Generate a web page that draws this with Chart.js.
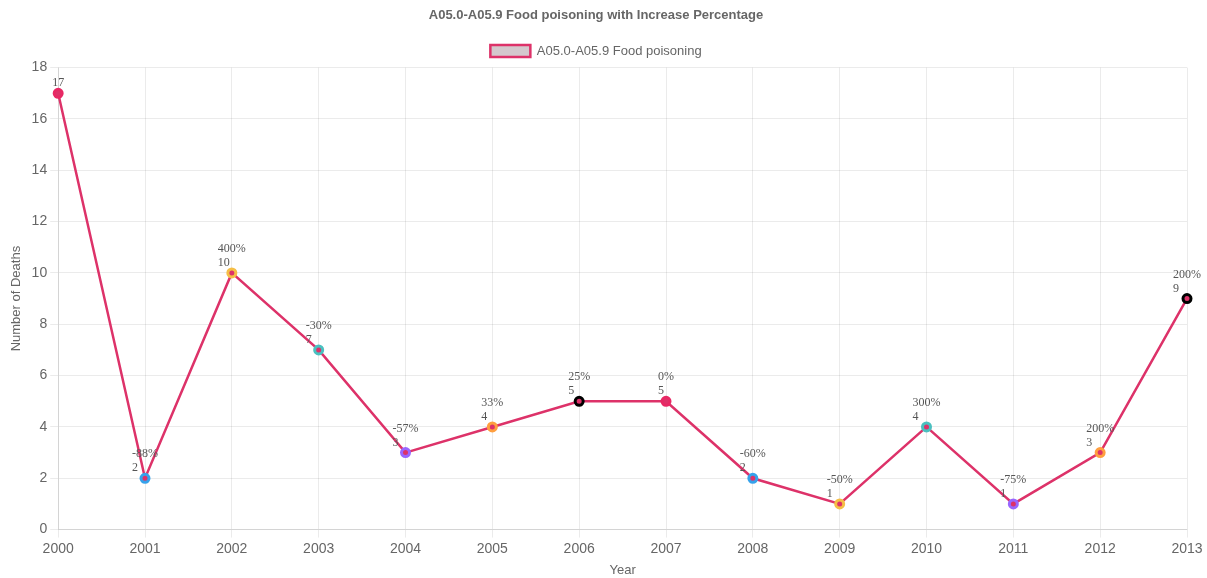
<!DOCTYPE html>
<html>
<head>
<meta charset="utf-8">
<title>Food poisoning</title>
<script src="https://cdn.jsdelivr.net/npm/chart.js@4.4.0/dist/chart.umd.min.js"></script>
<style>
  html, body { margin: 0; padding: 0; background: #fff; }
  #wrap { width: 1207px; height: 578px; }
</style>
</head>
<body>
<div id="wrap"><canvas id="myChart"></canvas></div>
<script>
let years = ['2000', '2001', '2002', '2003', '2004', '2005', '2006', '2007', '2008', '2009', '2010', '2011', '2012', '2013'];
let deaths = [17, 2, 10, 7, 3, 4, 5, 5, 2, 1, 4, 1, 3, 9];
let pctLabels = ['', '-88%', '400%', '-30%', '-57%', '33%', '25%', '0%', '-60%', '-50%', '300%', '-75%', '200%', '200%'];
let yTicks = [0, 2, 4, 6, 8, 10, 12, 14, 16, 18];

let lineColor = 'rgb(221, 50, 105)';
let pointColors = [
  'rgb(232, 40, 100)',
  'rgb(54, 162, 235)',
  'rgb(245, 190, 70)',
  'rgb(75, 192, 192)',
  'rgb(153, 102, 255)',
  'rgb(255, 159, 64)',
  'rgb(0, 0, 0)'
];

// draws "pct" and value above each point
let labelPlugin = {
  id: 'labelPlugin',
  afterDatasetsDraw: (chart) => {
    let ctx = chart.ctx;
    let meta = chart.getDatasetMeta(0);
    ctx.save();
    ctx.font = '12px "Liberation Serif", serif';
    ctx.fillStyle = '#555';
    ctx.textAlign = 'left';
    ctx.textBaseline = 'alphabetic';
    meta.data.forEach((pt, i) => {
      let top = pctLabels[i] || String(deaths[i]);
      let x = pt.x - ctx.measureText(top).width / 2;
      if (pctLabels[i]) {
        ctx.fillText(pctLabels[i], x, pt.y - 21);
      }
      ctx.fillText(String(deaths[i]), x, pt.y - 7);
    });
    ctx.restore();
  }
};

onWindowLoad = () => {
  Chart.defaults.font.family = 'Arial, "Liberation Sans", sans-serif';
  Chart.defaults.color = '#666';
  var ctx = document.getElementById('myChart').getContext('2d');
  var myChart = new Chart(ctx, {
    type: 'line',
    data: {
      labels: years,
      datasets: [{
        label: 'A05.0-A05.9 Food poisoning',
        data: deaths,
        borderColor: lineColor,
        backgroundColor: 'rgb(212, 200, 205)',
        borderWidth: 2.5,
        tension: 0,
        fill: false,
        pointRadius: 4,
        pointHoverRadius: 5,
        pointBorderWidth: 3,
        pointBackgroundColor: lineColor,
        pointBorderColor: deaths.map((v, i) => pointColors[i % pointColors.length])
      }]
    },
    options: {
      maintainAspectRatio: false,
      responsive: true,
      animation: false,
      layout: { padding: { right: 20, left: 5, bottom: 0 } },
      plugins: {
        title: {
          display: true,
          text: 'A05.0-A05.9 Food poisoning with Increase Percentage',
          font: { size: 13, weight: 'bold' },
          padding: { top: 8, bottom: 11 }
        },
        legend: {
          labels: {
            boxWidth: 40,
            boxHeight: 12,
            font: { size: 13 }
          }
        },
        tooltip: { enabled: true }
      },
      scales: {
        x: {
          offset: false,
          title: { display: true, text: 'Year', font: { size: 13 }, padding: { top: 2, bottom: 0 } },
          grid: { color: 'rgba(0,0,0,0.08)' },
          ticks: { font: { size: 14 } }
        },
        y: {
          min: 0,
          max: 18,
          title: { display: true, text: 'Number of Deaths', font: { size: 13 } },
          grid: { color: 'rgba(0,0,0,0.08)' },
          afterBuildTicks: (axis) => {
            axis.ticks = yTicks.map((v) => ({ value: v }));
          },
          ticks: { font: { size: 14 } }
        }
      }
    },
    plugins: [labelPlugin]
  });
};

window.onload = onWindowLoad;
</script>
</body>
</html>
